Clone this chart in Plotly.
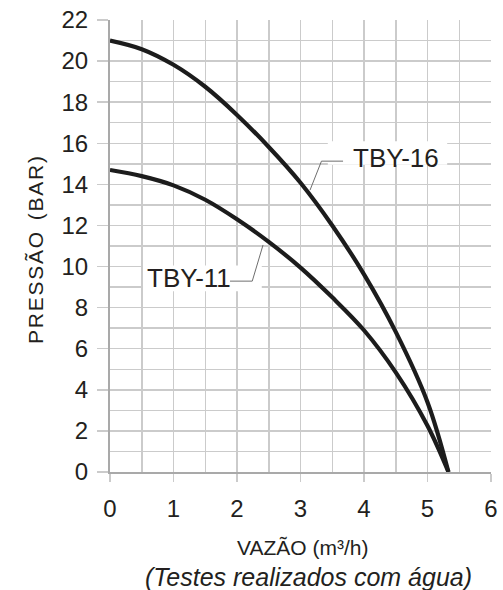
import plotly.graph_objects as go

# Data
vazao_16 = [0, 0.5, 1, 1.5, 2, 2.5, 3, 3.5, 4, 4.5, 5, 5.33]
pressao_16 = [21.0, 20.58, 19.82, 18.75, 17.38, 15.82, 14.08, 12.0, 9.62, 6.82, 3.4, 0.0]

vazao_11 = [0, 0.5, 1, 1.5, 2, 2.5, 3, 3.5, 4, 4.5, 5, 5.33]
pressao_11 = [14.7, 14.4, 13.95, 13.25, 12.3, 11.2, 9.95, 8.5, 6.9, 4.85, 2.25, 0.0]

x_ticks = [0, 1, 2, 3, 4, 5, 6]
y_ticks = [0, 2, 4, 6, 8, 10, 12, 14, 16, 18, 20, 22]

FONT = "Liberation Sans, Arial, Helvetica, sans-serif"
TXT = "#231f20"
GRID = "#cbcbcb"
AXIS = "#a9a9a9"
CURVE = "#1c1c1c"

fig = go.Figure()
fig.add_trace(go.Scatter(x=vazao_16, y=pressao_16, mode="lines",
                         line=dict(color=CURVE, width=4.2, shape="spline", smoothing=1.0),
                         name="TBY-16", showlegend=False, hoverinfo="skip"))
fig.add_trace(go.Scatter(x=vazao_11, y=pressao_11, mode="lines",
                         line=dict(color=CURVE, width=4.2, shape="spline", smoothing=1.0),
                         name="TBY-11", showlegend=False, hoverinfo="skip"))

shapes = []
# white label boxes
shapes.append(dict(type="rect", xref="x", yref="y", x0=3.43, x1=5.31, y0=14.95, y1=16.1,
                   fillcolor="white", line=dict(width=0), layer="above"))
shapes.append(dict(type="rect", xref="x", yref="y", x0=0.52, x1=2.39, y0=8.8, y1=10.05,
                   fillcolor="white", line=dict(width=0), layer="above"))
# leader lines
shapes.append(dict(type="path", xref="x", yref="y",
                   path="M 3.15 13.72 L 3.33 15.13 L 3.67 15.13",
                   line=dict(color="#6e6e6e", width=1), layer="above"))
shapes.append(dict(type="path", xref="x", yref="y",
                   path="M 1.89 9.29 L 2.24 9.29 L 2.41 11.05",
                   line=dict(color="#6e6e6e", width=1), layer="above"))

annotations = [
    dict(x=4.51, y=15.28, xref="x", yref="y", text="TBY-16", showarrow=False,
         font=dict(family=FONT, size=26, color=TXT), xanchor="center", yanchor="middle"),
    dict(x=1.24, y=9.44, xref="x", yref="y", text="TBY-11", showarrow=False,
         font=dict(family=FONT, size=26, color=TXT), xanchor="center", yanchor="middle"),
    dict(x=-0.197, y=0.491, xref="paper", yref="paper",
         text="P\u200aR\u200aE\u200aS\u200aS\u200aÃ\u200aO\u200a\u2009 (\u200aB\u200aA\u200aR\u200a)",
         textangle=-90, showarrow=False,
         font=dict(family=FONT, size=21, color=TXT), xanchor="center", yanchor="middle"),
    dict(x=0.504, y=-0.166, xref="paper", yref="paper", text="VAZÃO (m³/h)", showarrow=False,
         font=dict(family=FONT, size=21, color=TXT), xanchor="center", yanchor="middle"),
    dict(x=0.52, y=-0.232, xref="paper", yref="paper", text="<i>(Testes realizados com água)</i>",
         showarrow=False, font=dict(family=FONT, size=25, color=TXT),
         xanchor="center", yanchor="middle"),
]

fig.update_layout(
    width=503, height=590,
    margin=dict(l=110, r=12, t=20, b=118, autoexpand=False),
    paper_bgcolor="white", plot_bgcolor="white",
    shapes=shapes, annotations=annotations,
    showlegend=False,
)
fig.update_xaxes(
    range=[0, 6], tickvals=x_ticks, ticktext=[str(v) for v in x_ticks],
    showgrid=True, gridcolor=GRID, gridwidth=1.5,
    minor=dict(dtick=0.5, tick0=0, showgrid=True, gridcolor=GRID, gridwidth=1.5, ticks=""),
    ticks="outside", ticklen=8, tickwidth=1.5, tickcolor=GRID,
    showline=True, linecolor=AXIS, linewidth=2,
    zeroline=False, ticklabelstandoff=6, ticklabeloverflow="allow", automargin=False,
    tickfont=dict(family=FONT, size=24, color=TXT),
)
fig.update_yaxes(
    range=[0, 22], tickvals=y_ticks, ticktext=[str(v) for v in y_ticks],
    showgrid=True, gridcolor=GRID, gridwidth=1.5,
    minor=dict(dtick=1, tick0=0, showgrid=True, gridcolor=GRID, gridwidth=1.5, ticks=""),
    ticks="outside", ticklen=11, tickwidth=1.5, tickcolor=GRID,
    showline=True, linecolor=AXIS, linewidth=2,
    zeroline=False, ticklabelstandoff=4, ticklabeloverflow="allow", automargin=False,
    tickfont=dict(family=FONT, size=24, color=TXT),
)

# remove the default 8px page margin so the 503x590 figure fills the window
fig.write_html("out.html",
               config={"displayModeBar": False, "staticPlot": True},
               post_script="document.body.style.margin='0';document.body.style.overflow='hidden';")
